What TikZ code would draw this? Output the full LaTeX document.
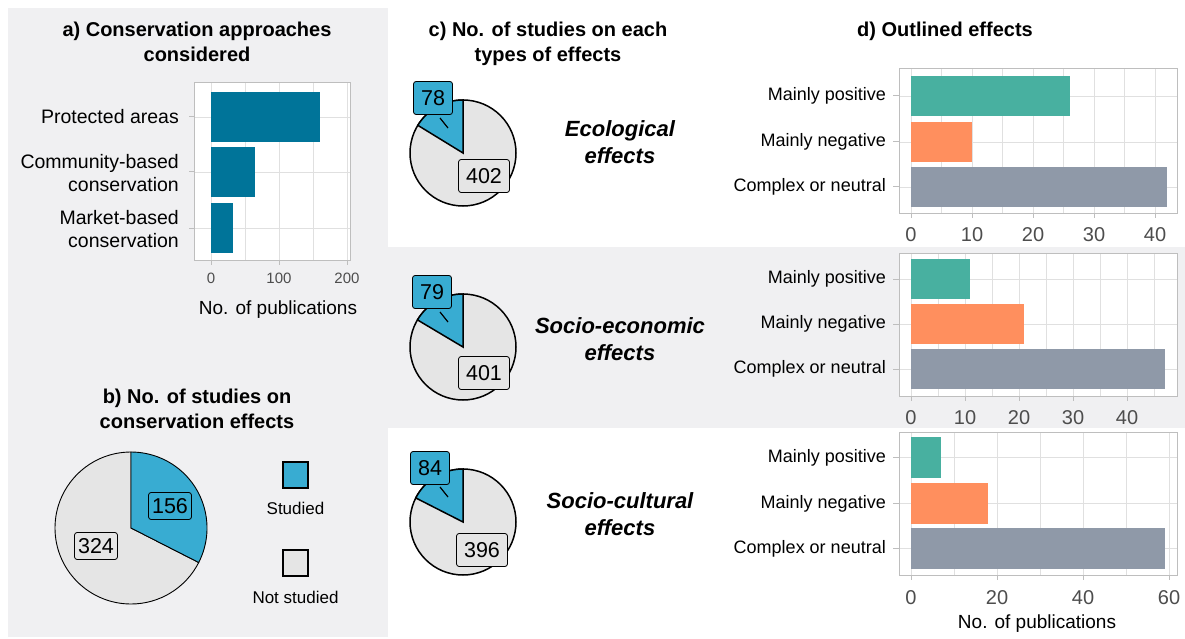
\documentclass[tikz,border=0pt]{standalone}
\usepackage{fontspec}
\setmainfont{Liberation Sans}
\definecolor{bgc}{RGB}{240,240,242}
\definecolor{barA}{RGB}{0,116,153}
\definecolor{blueS}{RGB}{56,172,210}
\definecolor{greyS}{RGB}{229,229,229}
\definecolor{posc}{RGB}{72,176,160}
\definecolor{negc}{RGB}{255,143,94}
\definecolor{cmpc}{RGB}{143,153,168}
\definecolor{gridc}{RGB}{224,224,224}
\definecolor{borderc}{RGB}{190,190,190}
\definecolor{tickc}{RGB}{77,77,77}
\tikzset{
 ttl/.style={font=\fontsize{20}{25}\selectfont\bfseries, align=center, anchor=north, inner sep=0pt},
 eff/.style={font=\fontsize{22}{27}\selectfont\bfseries\itshape, align=center, anchor=north, inner sep=0pt},
 cat/.style={font=\fontsize{18}{23}\selectfont, align=right, anchor=east, inner sep=0pt},
 cata/.style={cat, font=\fontsize{19.5}{23}\selectfont},
 tk/.style={font=\fontsize{20}{22}\selectfont, text=tickc, inner sep=0pt},
 tka/.style={font=\fontsize{15}{18}\selectfont, text=tickc, inner sep=0pt},
 axt/.style={font=\fontsize{19}{21}\selectfont, inner sep=0pt},
 gridl/.style={draw=gridc, line width=0.8pt},
 mgridl/.style={draw=gridc, line width=0.5pt},
 pframe/.style={draw=borderc, line width=1pt},
 tck/.style={draw=borderc, line width=1pt},
 plab/.style={draw=black, rounded corners=2.5pt, line width=0.8pt, font=\fontsize{21.5}{23}\selectfont, inner ysep=0pt, inner xsep=3.5pt, minimum height=27pt},
 plabc/.style={plab, inner xsep=7.5pt, minimum height=33pt},
 pslice/.style={draw=black, line width=0.9pt},
 pslicec/.style={draw=black, line width=1.5pt},
 leg/.style={font=\fontsize{17}{20}\selectfont, inner sep=0pt},
 legbox/.style={draw=black, line width=1.2pt},
 leader/.style={draw=black, line width=1.2pt},
}
\begin{document}
\begin{tikzpicture}[x=1pt,y=1pt]
\useasboundingbox (0,0) rectangle (1185,-639);
\fill[white] (0,0) rectangle (1185,-639);
% grey backgrounds
\fill[bgc] (8,-8) rectangle (388,-637);
\fill[bgc] (388,-247) rectangle (1185,-428);

% ---------- panel a ----------
\node[ttl] (ta) at (197,-22) {a) Conservation approaches\\considered};
\fill[white] (194,-83) rectangle (350,-260);
\foreach \v in {50,150} \draw[mgridl] ({211+0.68*\v},-83) -- ({211+0.68*\v},-260);
\foreach \v in {0,100,200} \draw[gridl] ({211+0.68*\v},-83) -- ({211+0.68*\v},-260);
\foreach \y in {117,172,228} \draw[gridl] (194,-\y) -- (350,-\y);
\fill[barA] (211,-92) rectangle (320,-142);
\fill[barA] (211,-147) rectangle (255,-197);
\fill[barA] (211,-203) rectangle (233,-253);
\draw[pframe] (194,-83) rectangle (350,-260);
\foreach \y in {117,172,228} \draw[tck] (189,-\y) -- (194,-\y);
\foreach \v in {0,100,200} {
  \draw[tck] ({211+0.68*\v},-260) -- ({211+0.68*\v},-265);
  \node[tka] (ax\v) at ({211+0.68*\v},-278) {\v};
}
\node[cata] (ca1) at (179,-117) {Protected areas};
\node[cata] (ca2) at (179,-173) {Community-based\\conservation};
\node[cata] (ca3) at (179,-229) {Market-based\\conservation};
\node[axt] (axa) at (278,-310) {No. of publications};

% ---------- panel b ----------
\node[ttl] (tb) at (197,-389) {b) No. of studies on\\conservation effects};
\begin{scope}[shift={(131,-528)}]
\filldraw[pslice, fill=greyS] (0,0) -- (90:76) arc[start angle=90, end angle=333, radius=76] -- cycle;
\filldraw[pslice, fill=blueS] (0,0) -- (-27:76) arc[start angle=-27, end angle=90, radius=76] -- cycle;
\end{scope}
\node[plab, fill=blueS] (b156) at (170,-506) {156};
\node[plab, fill=greyS] (b324) at (96,-546) {324};
\filldraw[legbox, fill=blueS] (283,-462) rectangle (308,-488);
\node[leg] (lstud) at (295.5,-508) {Studied};
\filldraw[legbox, fill=greyS] (283,-550) rectangle (308,-576);
\node[leg] (lnot) at (295.5,-597) {Not studied};

% ---------- panel c ----------
\node[ttl] (tc) at (548,-22) {c) No. of studies on each\\types of effects};
% pie 1
\begin{scope}[shift={(463,-153)}]
\filldraw[pslicec, fill=greyS] (0,0) circle[radius=53];
\filldraw[pslicec, fill=blueS] (0,0) -- (90:53) arc[start angle=90, end angle=148.5, radius=53] -- cycle;
\end{scope}
\coordinate (l1a) at (440,-118);
\coordinate (l1b) at (448,-128);
\draw[leader] (l1a) -- (l1b);
\node[plabc, fill=blueS] (c78) at (433,-98) {78};
\node[plabc, fill=greyS] (c402) at (484,-176) {402};
\node[eff] (e1) at (620,-120) {Ecological\\effects};
% pie 2
\begin{scope}[shift={(463,-347)}]
\filldraw[pslicec, fill=greyS] (0,0) circle[radius=53];
\filldraw[pslicec, fill=blueS] (0,0) -- (90:53) arc[start angle=90, end angle=149.25, radius=53] -- cycle;
\end{scope}
\coordinate (l2a) at (440,-312);
\coordinate (l2b) at (448,-322);
\draw[leader] (l2a) -- (l2b);
\node[plabc, fill=blueS] (c79) at (432,-292) {79};
\node[plabc, fill=greyS] (c401) at (484,-373) {401};
\node[eff] (e2) at (620,-317) {Socio-economic\\effects};
% pie 3
\begin{scope}[shift={(463,-522)}]
\filldraw[pslicec, fill=greyS] (0,0) circle[radius=53];
\filldraw[pslicec, fill=blueS] (0,0) -- (90:53) arc[start angle=90, end angle=153, radius=53] -- cycle;
\end{scope}
\coordinate (l3a) at (440,-487);
\coordinate (l3b) at (448,-497);
\draw[leader] (l3a) -- (l3b);
\node[plabc, fill=blueS] (c84) at (430,-468) {84};
\node[plabc, fill=greyS] (c396) at (482,-550) {396};
\node[eff] (e3) at (620,-492) {Socio-cultural\\effects};

% ---------- panel d ----------
\node[ttl] (td) at (945,-22) {d) Outlined effects};
% plot d1 (scale 6.1)
\fill[white] (899,-69) rectangle (1177,-213);
\foreach \v in {5,15,25,35} \draw[mgridl] ({911+6.1*\v},-69) -- ({911+6.1*\v},-213);
\foreach \v in {0,10,20,30,40} \draw[gridl] ({911+6.1*\v},-69) -- ({911+6.1*\v},-213);
\foreach \y in {96,142,187} \draw[gridl] (899,-\y) -- (1177,-\y);
\fill[posc] (911,-76) rectangle ({911+6.1*26},-116);
\fill[negc] (911,-122) rectangle ({911+6.1*10},-162);
\fill[cmpc] (911,-167) rectangle ({911+6.1*42},-207);
\draw[pframe] (899,-69) rectangle (1177,-213);
\foreach \y in {96,142,187} \draw[tck] (893,-\y) -- (899,-\y);
\foreach \v in {0,10,20,30,40} {
  \draw[tck] ({911+6.1*\v},-213) -- ({911+6.1*\v},-218);
  \node[tk] (dA\v) at ({911+6.1*\v},-235) {\v};
}
\node[cat] (d1p) at (886,-96) {Mainly positive};
\node[cat] (d1n) at (886,-142) {Mainly negative};
\node[cat] (d1c) at (886,-187) {Complex or neutral};
% plot d2 (scale 5.4)
\fill[white] (899,-253) rectangle (1177,-396);
\foreach \v in {5,15,25,35,45} \draw[mgridl] ({911+5.4*\v},-253) -- ({911+5.4*\v},-396);
\foreach \v in {0,10,20,30,40} \draw[gridl] ({911+5.4*\v},-253) -- ({911+5.4*\v},-396);
\foreach \y in {279,324,369} \draw[gridl] (899,-\y) -- (1177,-\y);
\fill[posc] (911,-259) rectangle ({911+5.4*11},-299);
\fill[negc] (911,-304) rectangle ({911+5.4*21},-344);
\fill[cmpc] (911,-349) rectangle ({911+5.4*47},-389);
\draw[pframe] (899,-253) rectangle (1177,-396);
\foreach \y in {279,324,369} \draw[tck] (893,-\y) -- (899,-\y);
\foreach \v in {0,10,20,30,40} {
  \draw[tck] ({911+5.4*\v},-396) -- ({911+5.4*\v},-401);
  \node[tk] (dB\v) at ({911+5.4*\v},-418) {\v};
}
\node[cat] (d2p) at (886,-279) {Mainly positive};
\node[cat] (d2n) at (886,-324) {Mainly negative};
\node[cat] (d2c) at (886,-369) {Complex or neutral};
% plot d3 (scale 4.3)
\fill[white] (899,-432) rectangle (1177,-575);
\foreach \v in {10,30,50} \draw[mgridl] ({911+4.3*\v},-432) -- ({911+4.3*\v},-575);
\foreach \v in {0,20,40,60} \draw[gridl] ({911+4.3*\v},-432) -- ({911+4.3*\v},-575);
\foreach \y in {457.5,503.5,548.5} \draw[gridl] (899,-\y) -- (1177,-\y);
\fill[posc] (911,-437) rectangle ({911+4.3*7},-478);
\fill[negc] (911,-483) rectangle ({911+4.3*18},-524);
\fill[cmpc] (911,-528) rectangle ({911+4.3*59},-569);
\draw[pframe] (899,-432) rectangle (1177,-575);
\foreach \y in {457.5,503.5,548.5} \draw[tck] (893,-\y) -- (899,-\y);
\foreach \v in {0,20,40,60} {
  \draw[tck] ({911+4.3*\v},-575) -- ({911+4.3*\v},-580);
  \node[tk] (dC\v) at ({911+4.3*\v},-598) {\v};
}
\node[cat] (d3p) at (886,-457.5) {Mainly positive};
\node[cat] (d3n) at (886,-503.5) {Mainly negative};
\node[cat] (d3c) at (886,-548.5) {Complex or neutral};
\node[axt] (axd) at (1037,-624) {No. of publications};
\end{tikzpicture}
\end{document}
